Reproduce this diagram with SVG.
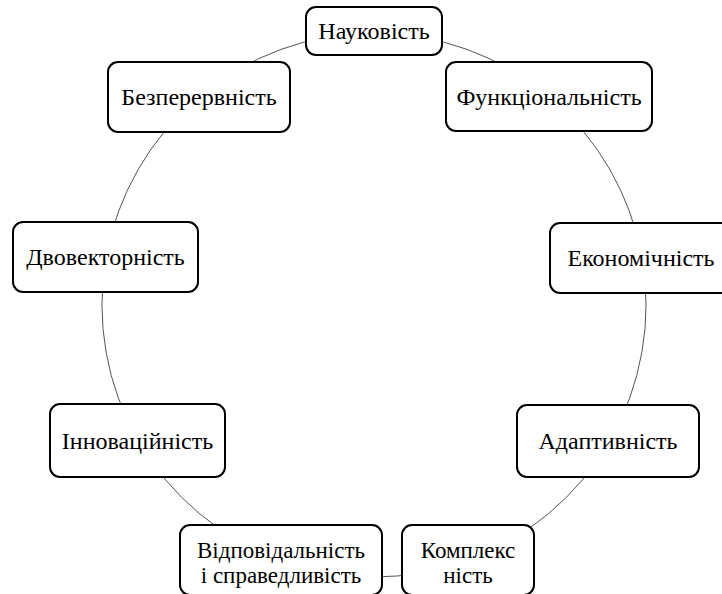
<svg xmlns="http://www.w3.org/2000/svg" width="722" height="594" viewBox="0 0 722 594">
  <style>
    .box { fill: #ffffff; stroke: #000000; stroke-width: 2; }
    .lbl { font-family: 'Liberation Serif', 'DejaVu Serif', serif; font-size: 24px; fill: #000000; text-anchor: middle; }
    .lbl2 { font-family: 'Liberation Serif', 'DejaVu Serif', serif; font-size: 23px; fill: #000000; text-anchor: middle; }
    .conn { fill: none; stroke: #555555; stroke-width: 1; }
  </style>
  <rect width="722" height="594" fill="#ffffff"/>
  <g id="connectors">
    <path class="conn" d="M 374 33 A 272 272 0 0 1 548.8 96.6"/>
    <path class="conn" d="M 548.8 96.6 A 272 272 0 0 1 641.9 257.8"/>
    <path class="conn" d="M 641.9 257.8 A 272 272 0 0 1 609.6 441"/>
    <path class="conn" d="M 609.6 441 A 272 272 0 0 1 467 560.6"/>
    <path class="conn" d="M 467 560.6 A 272 272 0 0 1 281 560.6"/>
    <path class="conn" d="M 281 560.6 A 272 272 0 0 1 138.4 441"/>
    <path class="conn" d="M 138.4 441 A 272 272 0 0 1 106.1 257.8"/>
    <path class="conn" d="M 106.1 257.8 A 272 272 0 0 1 199.2 96.6"/>
    <path class="conn" d="M 199.2 96.6 A 272 272 0 0 1 374 33"/>
  </g>
  <g id="node-naukovist">
    <rect class="box" x="306" y="7" width="136" height="48" rx="10"/>
    <text class="lbl" x="374" y="39">Науковість</text>
  </g>
  <g id="node-funktsionalnist">
    <rect class="box" x="446" y="62" width="206" height="69" rx="10"/>
    <text class="lbl" x="549" y="104.5">Функціональність</text>
  </g>
  <g id="node-ekonomichnist">
    <rect class="box" x="550" y="223" width="182" height="70" rx="10"/>
    <text class="lbl" x="641" y="266">Економічність</text>
  </g>
  <g id="node-adaptyvnist">
    <rect class="box" x="517" y="405" width="182" height="72" rx="10"/>
    <text class="lbl" x="608" y="449">Адаптивність</text>
  </g>
  <g id="node-kompleksnist">
    <rect class="box" x="402" y="525" width="132" height="70" rx="10"/>
    <text class="lbl2" x="468" y="558">Комплекс</text>
    <text class="lbl2" x="468" y="583">ність</text>
  </g>
  <g id="node-vidpovidalnist">
    <rect class="box" x="180" y="525" width="202" height="70" rx="10"/>
    <text class="lbl2" x="281" y="558">Відповідальність</text>
    <text class="lbl2" x="281" y="583">і справедливість</text>
  </g>
  <g id="node-innovatsiinist">
    <rect class="box" x="50" y="404" width="175" height="73" rx="10"/>
    <text class="lbl" x="137.5" y="448.5">Інноваційність</text>
  </g>
  <g id="node-dvovektornist">
    <rect class="box" x="13" y="222" width="185" height="70" rx="10"/>
    <text class="lbl" x="105.5" y="265">Двовекторність</text>
  </g>
  <g id="node-bezperervnist">
    <rect class="box" x="108" y="62" width="182" height="70" rx="10"/>
    <text class="lbl" x="199" y="105">Безперервність</text>
  </g>
</svg>
